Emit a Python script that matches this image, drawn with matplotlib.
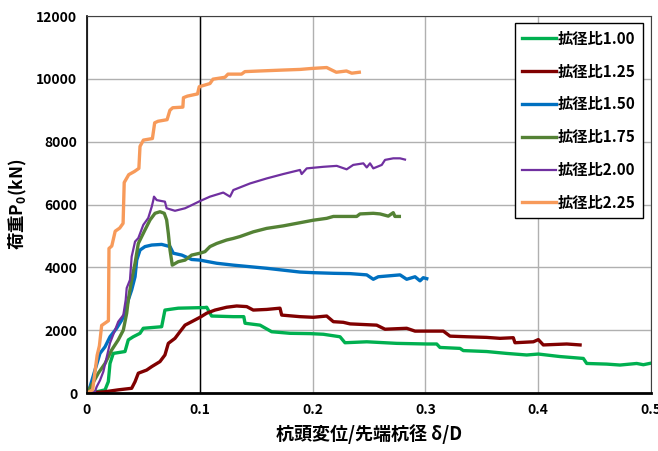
import matplotlib
matplotlib.use("Agg")
import matplotlib.pyplot as plt

plt.rcParams['font.family'] = ['Noto Sans CJK JP', 'DejaVu Sans']
plt.rcParams['font.weight'] = 'bold'

labels = ['拡径比1.00', '拡径比1.25', '拡径比1.50', '拡径比1.75', '拡径比2.00', '拡径比2.25']
colors = ['#00B050', '#800000', '#0070C0', '#548235', '#7030A0', '#F79A5A']
widths = [2.4, 2.4, 2.4, 2.4, 1.6, 2.4]

# 拡径比1.00
x100 = [0, 0.0100, 0.0160, 0.0189, 0.0204, 0.0233, 0.0337, 0.0366, 0.0410, 0.0470, 0.0499,
        0.0662, 0.0691, 0.0809, 0.1046, 0.1061, 0.1105, 0.1297, 0.1390, 0.1401, 0.1534,
        0.1637, 0.1800, 0.1977, 0.2095, 0.2243, 0.2287, 0.2480, 0.2746, 0.3012, 0.3100,
        0.3129, 0.3307, 0.3336, 0.3543, 0.3721, 0.3898, 0.4001, 0.4193, 0.4400, 0.4430,
        0.4607, 0.4725, 0.4873, 0.4932, 0.5]
y100 = [0, 50, 100, 360, 940, 1260, 1320, 1690, 1790, 1900, 2060,
        2110, 2640, 2700, 2720, 2730, 2450, 2430, 2430, 2220, 2160,
        1950, 1900, 1890, 1870, 1790, 1600, 1630, 1580, 1560, 1560,
        1450, 1420, 1350, 1320, 1260, 1210, 1240, 1160, 1100, 940,
        920, 890, 940, 900, 950]

# 拡径比1.25
x125 = [0, 0.0160, 0.0277, 0.0396, 0.0426, 0.0455, 0.0529, 0.0574, 0.0647, 0.0691, 0.0721,
        0.0780, 0.0824, 0.0869, 0.0928, 0.1002, 0.1061, 0.1135, 0.1238, 0.1327, 0.1416,
        0.1474, 0.1593, 0.1711, 0.1726, 0.1888, 0.2006, 0.2125, 0.2184, 0.2272, 0.2332,
        0.2568, 0.2642, 0.2834, 0.2908, 0.3159, 0.3218, 0.3366, 0.3543, 0.3661, 0.3779,
        0.3794, 0.3957, 0.4001, 0.4045, 0.4253, 0.4371]
y125 = [0, 40, 100, 150, 360, 630, 730, 840, 1000, 1210, 1580,
        1740, 1950, 2160, 2270, 2410, 2540, 2640, 2730, 2770, 2750,
        2640, 2660, 2700, 2480, 2430, 2410, 2450, 2270, 2250, 2200,
        2160, 2030, 2060, 1970, 1970, 1810, 1790, 1770, 1740, 1760,
        1600, 1630, 1700, 1530, 1560, 1530]

# 拡径比1.50
x150 = [0, 0.0027, 0.0071, 0.0115, 0.0160, 0.0204, 0.0263, 0.0308, 0.0337, 0.0366, 0.0396,
        0.0426, 0.0441, 0.0470, 0.0514, 0.0574, 0.0662, 0.0736, 0.0765, 0.0840, 0.0928,
        0.1002, 0.1075, 0.1150, 0.1297, 0.1445, 0.1593, 0.1740, 0.1888, 0.2006, 0.2184,
        0.2332, 0.2480, 0.2538, 0.2582, 0.2775, 0.2834, 0.2908, 0.2952, 0.2981, 0.3012]
y150 = [0, 200, 730, 1260, 1470, 1790, 2060, 2320, 2540, 2960, 3280,
        3700, 4230, 4550, 4660, 4710, 4730, 4660, 4450, 4390, 4250,
        4230, 4180, 4130, 4070, 4020, 3970, 3910, 3850, 3830, 3810,
        3800, 3760, 3620, 3700, 3760, 3620, 3700, 3570, 3670, 3640]

# 拡径比1.75
x175 = [0, 0.0042, 0.0100, 0.0160, 0.0219, 0.0277, 0.0322, 0.0352, 0.0366, 0.0396, 0.0426,
        0.0455, 0.0514, 0.0559, 0.0603, 0.0647, 0.0685, 0.0706, 0.0721, 0.0736, 0.0756,
        0.0809, 0.0869, 0.0928, 0.1002, 0.1046, 0.1090, 0.1150, 0.1238, 0.1297, 0.1356,
        0.1474, 0.1593, 0.1740, 0.1888, 0.2006, 0.2125, 0.2184, 0.2391, 0.2420, 0.2538,
        0.2598, 0.2671, 0.2715, 0.2730, 0.2769]
y175 = [0, 250, 630, 940, 1370, 1690, 2000, 2540, 2960, 3600, 4130,
        4760, 5190, 5510, 5720, 5770, 5720, 5510, 5080, 4550, 4070,
        4180, 4230, 4390, 4450, 4500, 4660, 4760, 4870, 4920, 4980,
        5130, 5240, 5320, 5420, 5500, 5560, 5620, 5620, 5700, 5720,
        5700, 5630, 5740, 5620, 5620]

# 拡径比2.00
x200 = [0, 0.0071, 0.0086, 0.0115, 0.0145, 0.0204, 0.0248, 0.0277, 0.0322, 0.0343, 0.0352,
        0.0381, 0.0396, 0.0426, 0.0455, 0.0499, 0.0543, 0.0574, 0.0588, 0.0594, 0.0618,
        0.0691, 0.0706, 0.0780, 0.0869, 0.0928, 0.1002, 0.1090, 0.1208, 0.1268, 0.1297,
        0.1445, 0.1593, 0.1740, 0.1888, 0.1903, 0.1948, 0.2095, 0.2214, 0.2302, 0.2360,
        0.2450, 0.2480, 0.2509, 0.2538, 0.2613, 0.2642, 0.2715, 0.2775, 0.2819]
y200 = [0, 50, 200, 400, 680, 1590, 2000, 2270, 2480, 2960, 3340,
        3600, 4340, 4820, 4930, 5350, 5570, 5930, 6140, 6250, 6140,
        6090, 5880, 5800, 5880, 5980, 6110, 6250, 6380, 6250, 6460,
        6670, 6830, 6970, 7100, 6970, 7150, 7200, 7230, 7120, 7260,
        7310, 7180, 7310, 7150, 7260, 7420, 7470, 7470, 7430]

# 拡径比2.25
x225 = [0, 0.005, 0.009, 0.011, 0.013, 0.017, 0.019, 0.0195, 0.022, 0.025, 0.029,
        0.032, 0.033, 0.037, 0.042, 0.046, 0.047, 0.050, 0.058, 0.060, 0.063,
        0.071, 0.0735, 0.076, 0.085, 0.0855, 0.089, 0.098, 0.0995, 0.109, 0.1117,
        0.1223, 0.125, 0.137, 0.140, 0.153, 0.174, 0.189, 0.199, 0.2125, 0.217,
        0.221, 0.230, 0.2347, 0.2414]
y225 = [0, 100, 1200, 1500, 2150, 2250, 2300, 4600, 4680, 5150, 5250,
        5400, 6700, 6950, 7050, 7150, 7850, 8050, 8100, 8600, 8650,
        8700, 9000, 9080, 9100, 9400, 9450, 9520, 9750, 9850, 9990,
        10050, 10150, 10150, 10230, 10250, 10280, 10300, 10330, 10360, 10280,
        10210, 10250, 10180, 10210]

xs = [x100, x125, x150, x175, x200, x225]
ys = [y100, y125, y150, y175, y200, y225]

fig = plt.figure(figsize=(6.58, 4.51), dpi=100)
ax = fig.add_axes([0.1322, 0.1286, 0.8572, 0.8359])

for x, y, c, w, lab in zip(xs, ys, colors, widths, labels):
    ax.plot(x, y, color=c, lw=w, label=lab, solid_joinstyle='round')

ax.set_xlim(0, 0.5)
ax.set_ylim(0, 12000)
ax.set_xticks([0, 0.1, 0.2, 0.3, 0.4, 0.5])
ax.set_xticklabels(['0', '0.1', '0.2', '0.3', '0.4', '0.5'])
ax.set_yticks(range(0, 12001, 2000))
ax.grid(True, color='#b0b0b0', lw=1.0)
ax.set_axisbelow(True)
ax.axvline(0.1, color='black', lw=1.0, zorder=1.5)
ax.tick_params(length=0, labelsize=10, pad=7)
for t in ax.get_xticklabels() + ax.get_yticklabels():
    t.set_fontweight('bold')

ax.spines['left'].set_color('black')
ax.spines['left'].set_linewidth(1.2)
ax.spines['bottom'].set_color('black')
ax.spines['bottom'].set_linewidth(2.0)
ax.spines['top'].set_color('#404040')
ax.spines['right'].set_color('#404040')

ax.set_xlabel('杭頭変位/先端杭径 δ/D', fontsize=13, fontweight='bold', labelpad=5)
ax.set_ylabel('荷重P$\\mathregular{_0}$(kN)', fontsize=12.5, fontweight='bold', labelpad=5)

leg = ax.legend(loc='upper right', bbox_to_anchor=(0.986, 0.981), borderaxespad=0,
                prop={'weight': 'bold', 'size': 11}, frameon=True, fancybox=False,
                edgecolor='black', framealpha=1, labelspacing=1.1, handlelength=2.2,
                handletextpad=0.1, borderpad=0.5)
leg.get_frame().set_linewidth(1.0)

fig.savefig('out.png', dpi=100)
